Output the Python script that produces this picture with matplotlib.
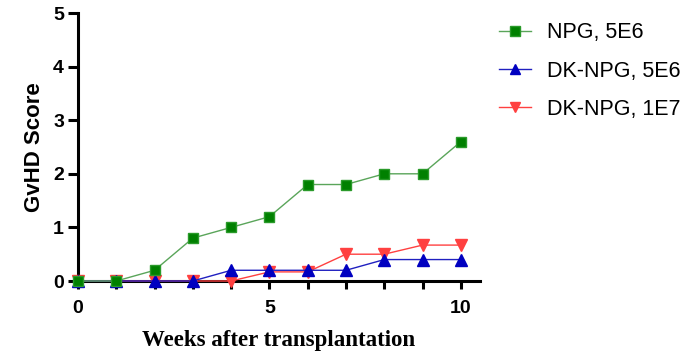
import matplotlib
matplotlib.use('Agg')
import matplotlib.pyplot as plt
from matplotlib.ticker import MultipleLocator, FixedLocator

weeks = [0, 1, 2, 3, 4, 5, 6, 7, 8, 9, 10]
npg_5e6 = [0, 0, 0.2, 0.8, 1.0, 1.2, 1.8, 1.8, 2.0, 2.0, 2.6]
dk_5e6 = [0, 0, 0, 0, 0.2, 0.2, 0.2, 0.2, 0.4, 0.4, 0.4]
dk_1e7 = [0, 0, 0, 0, 0, 0.17, 0.17, 0.5, 0.5, 0.67, 0.67]

labels = ['NPG, 5E6', 'DK-NPG, 5E6', 'DK-NPG, 1E7']

fig = plt.figure(figsize=(6.91, 3.55), dpi=100)
ax = fig.add_axes([78/691, 1 - 281/355, (480 - 78)/691, (281 - 13)/355])

# red first so blue and green sit on top
ax.plot(weeks, dk_1e7, color='#ff4040', lw=1.0, marker='v', ms=8, mec='#ff4040', mfc='#ff4040', clip_on=False, zorder=3, label=labels[2])
ax.plot(weeks, dk_5e6, color='#2020c0', lw=1.0, marker='^', ms=8, mec='#0000c0', mfc='#0000c0', clip_on=False, zorder=4, label=labels[1])
ax.plot(weeks, npg_5e6, color='#5aa55a', lw=1.0, marker='s', ms=7.5, mec='#2a9a2a', mfc='#008000', clip_on=False, zorder=5, label=labels[0])

ax.set_xlim(0, 10.5)
ax.set_ylim(0, 5)
ax.xaxis.set_major_locator(FixedLocator([0, 5, 10]))
ax.xaxis.set_minor_locator(MultipleLocator(1))
ax.yaxis.set_major_locator(MultipleLocator(1))

for s in ['top', 'right']:
    ax.spines[s].set_visible(False)
for s in ['left', 'bottom']:
    ax.spines[s].set_linewidth(2.2)

ax.tick_params(axis='both', which='both', width=2.2, length=7, direction='out')
ax.tick_params(axis='x', which='both', length=6, pad=8)
ax.tick_params(axis='y', pad=3)
for lab in ax.get_xticklabels() + ax.get_yticklabels():
    lab.set_fontfamily('Liberation Sans')
    lab.set_fontweight('bold')
    lab.set_fontsize(14)

ax.set_ylabel('GvHD Score', family='Liberation Sans', fontweight='bold', fontsize=16, labelpad=6)
ax.set_xlabel('Weeks after transplantation', family='Liberation Serif', fontweight='bold', fontsize=16.5, labelpad=9)

h, l = ax.get_legend_handles_labels()
order = [2, 1, 0]
leg = fig.legend([h[i] for i in order], [l[i] for i in order], loc='upper left',
                 bbox_to_anchor=(480/691, 1 - 3/355), frameon=False,
                 prop={'family': 'Liberation Sans', 'size': 15.5},
                 handlelength=1.45, labelspacing=0.8, handletextpad=0.75)
for lh in leg.legend_handles:
    lh.set_markersize(7)

fig.savefig('out.png', dpi=100)
